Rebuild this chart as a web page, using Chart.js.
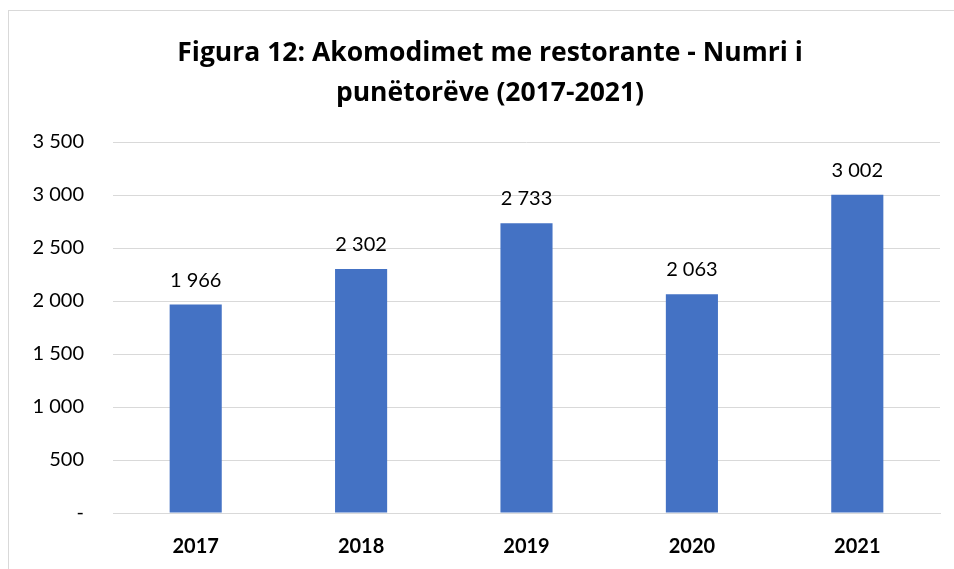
<!DOCTYPE html>
<html>
<head>
<meta charset="utf-8">
<script src="https://cdn.jsdelivr.net/npm/chart.js@4"></script>
<style>
html,body{margin:0;padding:0;background:#fff;}
#wrap{position:relative;width:954px;height:569px;}
</style>
</head>
<body>
<div id="wrap"><canvas id="c" width="954" height="569"></canvas></div>
<script>
const categories = ["2017", "2018", "2019", "2020", "2021"];
const workers = [1966, 2302, 2733, 2063, 3002];
const yTicks = [0, 500, 1000, 1500, 2000, 2500, 3000, 3500];
const titleLines = ["Figura 12: Akomodimet me restorante - Numri i", "punëtorëve (2017-2021)"];

const FONT = "Lato";
const TITLE_FONT = "'Open Sans'";
function fmt(v){
  if (v === 0) return "-";
  return String(Math.round(v)).replace(/\B(?=(\d{3})+(?!\d))/g, " ");
}

const borderPlugin = {
  id: "border",
  beforeDraw(chart){
    const ctx = chart.ctx;
    ctx.save();
    ctx.fillStyle = "#fff";
    ctx.fillRect(0,0,chart.width,chart.height);
    ctx.strokeStyle = "#D9D9D9";
    ctx.lineWidth = 1;
    ctx.strokeRect(8.5, 10.5, 1000, 1000);
    ctx.restore();
  }
};
const titlePlugin = {
  id: "ctitle",
  afterDraw(chart){
    const ctx = chart.ctx;
    ctx.save();
    ctx.font = "bold 26.5px " + TITLE_FONT;
    ctx.fillStyle = "#000";
    ctx.textAlign = "center";
    ctx.textBaseline = "middle";
    titleLines.forEach((t, i) => ctx.fillText(t, 490, 53 + i * 40));
    ctx.restore();
  }
};
const labelPlugin = {
  id: "vals",
  afterDatasetsDraw(chart){
    const ctx = chart.ctx;
    const meta = chart.getDatasetMeta(0);
    ctx.save();
    ctx.font = "20px " + FONT;
    ctx.fillStyle = "#000";
    ctx.textAlign = "center";
    ctx.textBaseline = "alphabetic";
    meta.data.forEach((el, i) => {
      ctx.fillText(fmt(chart.data.datasets[0].data[i]), el.x, el.y - 18);
    });
    ctx.restore();
  }
};

new Chart(document.getElementById("c"), {
  type: "bar",
  data: {
    labels: categories,
    datasets: [{
      data: workers,
      backgroundColor: "#4472C4",
      barPercentage: 0.315,
      categoryPercentage: 1.0
    }]
  },
  options: {
    responsive: false,
    animation: false,
    devicePixelRatio: 1,
    layout: { padding: { left: 0, right: 14, top: 142, bottom: 0 } },
    plugins: {
      legend: { display: false },
      tooltip: { enabled: false },
      title: { display: false }
    },
    scales: {
      x: {
        grid: { display: false, drawTicks: false },
        border: { display: true, color: "#D9D9D9", width: 1 },
        ticks: { color: "#000", font: { family: FONT, size: 20, weight: "bold" }, padding: 22 },
        afterFit(s){ s.height = 56; }
      },
      y: {
        min: 0, max: 3500,
        afterBuildTicks(s){ s.ticks = yTicks.map(v => ({ value: v })); },
        grid: { color: "#D9D9D9", lineWidth: 1, drawTicks: false },
        border: { display: false },
        ticks: { color: "#000", font: { family: FONT, size: 20 }, padding: 29, callback: v => fmt(v) },
        afterFit(s){ s.width = 113; }
      }
    }
  },
  plugins: [borderPlugin, labelPlugin, titlePlugin]
});
</script>
</body>
</html>
